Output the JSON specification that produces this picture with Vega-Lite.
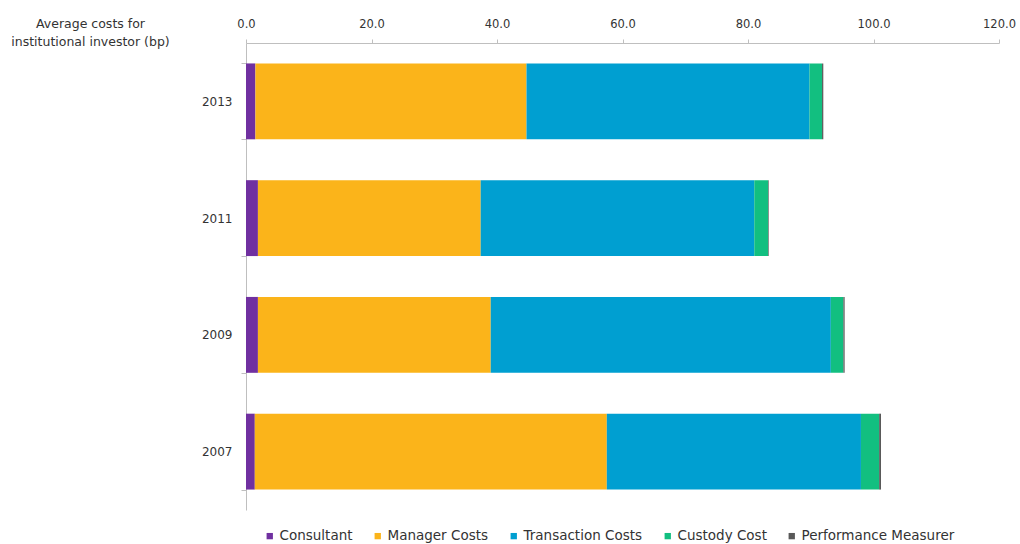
{
  "$schema": "https://vega.github.io/schema/vega-lite/v6.json",
  "width": 753,
  "height": 467,
  "autosize": {"type": "none"},
  "padding": {"left": 246, "top": 43, "right": 21, "bottom": 34},
  "background": "white",
  "config": {
    "view": {"stroke": null},
    "font": "DejaVu Sans",
    "axis": {"labelFont": "DejaVu Sans", "labelFontSize": 11.5, "labelColor": "#333333", "domainColor": "#BFBFBF", "tickColor": "#BFBFBF", "grid": false},
    "legend": {"labelFont": "DejaVu Sans", "labelFontSize": 13.5, "labelColor": "#333333"}
  },
  "data": {
    "values": [
      {"year": "2013", "category": "Consultant", "cost": 1.5},
      {"year": "2013", "category": "Manager Costs", "cost": 43.2},
      {"year": "2013", "category": "Transaction Costs", "cost": 45.1},
      {"year": "2013", "category": "Custody Cost", "cost": 2.0},
      {"year": "2013", "category": "Performance Measurer", "cost": 0.2},
      {"year": "2011", "category": "Consultant", "cost": 1.9},
      {"year": "2011", "category": "Manager Costs", "cost": 35.5},
      {"year": "2011", "category": "Transaction Costs", "cost": 43.6},
      {"year": "2011", "category": "Custody Cost", "cost": 2.2},
      {"year": "2011", "category": "Performance Measurer", "cost": 0.1},
      {"year": "2009", "category": "Consultant", "cost": 1.9},
      {"year": "2009", "category": "Manager Costs", "cost": 37.1},
      {"year": "2009", "category": "Transaction Costs", "cost": 54.2},
      {"year": "2009", "category": "Custody Cost", "cost": 2.0},
      {"year": "2009", "category": "Performance Measurer", "cost": 0.2},
      {"year": "2007", "category": "Consultant", "cost": 1.4},
      {"year": "2007", "category": "Manager Costs", "cost": 56.1},
      {"year": "2007", "category": "Transaction Costs", "cost": 40.5},
      {"year": "2007", "category": "Custody Cost", "cost": 2.9},
      {"year": "2007", "category": "Performance Measurer", "cost": 0.3}
    ]
  },
  "transform": [
    {"calculate": "indexof(['Consultant','Manager Costs','Transaction Costs','Custody Cost','Performance Measurer'], datum.category)", "as": "stackOrder"}
  ],
  "mark": {"type": "bar"},
  "encoding": {
    "y": {
      "field": "year",
      "type": "nominal",
      "sort": ["2013", "2011", "2009", "2007"],
      "scale": {"paddingInner": 0.35, "paddingOuter": 0.175},
      "axis": {
        "title": ["Average  costs for", "institutional investor  (bp)"],
        "titleAngle": 0,
        "titleAlign": "center",
        "titleBaseline": "top",
        "titleX": -156,
        "titleY": -26,
        "titleFont": "DejaVu Sans",
        "titleFontSize": 12.5,
        "titleFontWeight": "normal",
        "titleColor": "#333333",
        "titleLineHeight": 18,
        "tickBand": "extent",
        "tickSize": 5,
        "labelPadding": 9,
        "labelFontSize": 12,
        "domainColor": "#BFBFBF"
      }
    },
    "x": {
      "field": "cost",
      "type": "quantitative",
      "stack": "zero",
      "scale": {"domain": [0, 120], "nice": false},
      "axis": {
        "orient": "top",
        "title": null,
        "values": [0, 20, 40, 60, 80, 100, 120],
        "format": ".1f",
        "labelFlush": false,
        "tickSize": 4,
        "labelPadding": 10
      }
    },
    "order": {"field": "stackOrder", "type": "quantitative"},
    "color": {
      "field": "category",
      "type": "nominal",
      "scale": {
        "domain": ["Consultant", "Manager Costs", "Transaction Costs", "Custody Cost", "Performance Measurer"],
        "range": ["#7030A0", "#FBB41A", "#009FD1", "#12BF80", "#595959"]
      },
      "legend": {
        "title": null,
        "orient": "none",
        "direction": "horizontal",
        "legendX": 17,
        "legendY": 486,
        "symbolType": "square",
        "symbolSize": 40,
        "symbolStrokeWidth": 0,
        "labelOffset": 3,
        "columnPadding": 18,
        "padding": 0
      }
    }
  }
}
